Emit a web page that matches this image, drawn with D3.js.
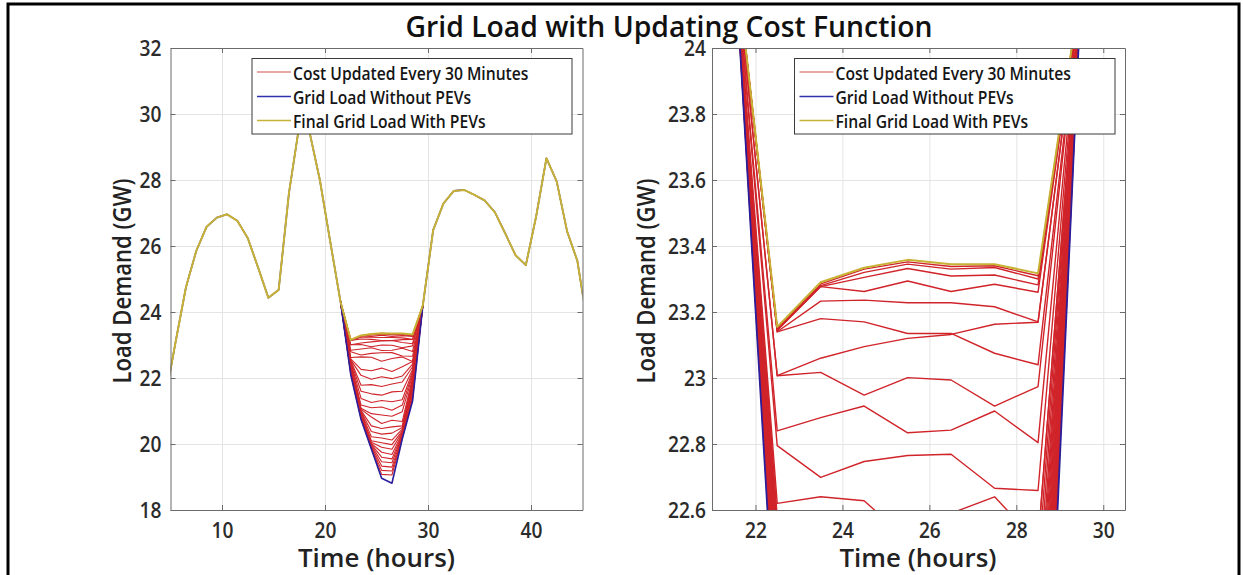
<!DOCTYPE html>
<html><head><meta charset="utf-8">
<script src="https://cdn.jsdelivr.net/npm/d3@7"></script>
<style>
html,body{margin:0;padding:0;background:#fff;}
svg text{font-family:"Open Sans","Noto Sans",sans-serif;font-weight:600;}
</style></head><body>
<svg id="chart" width="1243" height="575"></svg>
<script>
// ---------------- data ----------------
const titleText = "Grid Load with Updating Cost Function";
const xLabel = "Time (hours)";
const yLabel = "Load Demand (GW)";
const legendLabels = ["Cost Updated Every 30 Minutes", "Grid Load Without PEVs", "Final Grid Load With PEVs"];

const hours = [4.5,5.5,6.5,7.5,8.5,9.5,10.5,11.5,12.5,13.5,14.5,15.5,16.5,17.5,18.5,19.5,20.5,21.5,
  22.5,23.5,24.5,25.5,26.5,27.5,28.5,
  29.5,30.5,31.5,32.5,33.5,34.5,35.5,36.5,37.5,38.5,39.5,40.5,41.5,42.5,43.5,44.5,45.5];

const baseLoad = [21.4,23.1,24.75,25.85,26.58,26.86,26.96,26.76,26.24,25.35,24.43,24.67,27.6,29.65,29.45,28.0,26.15,24.32,
  22.10,20.74,19.85,18.96,18.81,20.15,21.30,
  24.2,26.48,27.29,27.67,27.7,27.55,27.38,27.02,26.38,25.72,25.42,26.9,28.66,27.95,26.45,25.55,23.6];

const finalLoad = [21.4,23.1,24.75,25.85,26.58,26.86,26.96,26.76,26.24,25.35,24.43,24.67,27.6,29.65,29.45,28.0,26.15,24.32,
  23.155,23.29,23.334,23.358,23.345,23.345,23.317,
  24.2,26.48,27.29,27.67,27.7,27.55,27.38,27.02,26.38,25.72,25.42,26.9,28.66,27.95,26.45,25.55,23.6];

const iterHours = [21.5,22.5,23.5,24.5,25.5,26.5,27.5,28.5,29.5];
const iterations = [
  [24.32,22.13,20.77,19.88,19.08,19.06,20.18,21.36,24.2],
  [24.32,22.15,20.79,19.90,19.20,19.18,20.20,21.42,24.2],
  [24.32,22.18,20.81,19.93,19.33,19.30,20.23,21.48,24.2],
  [24.32,22.20,20.83,19.96,19.46,19.43,20.26,21.54,24.2],
  [24.32,22.23,20.85,19.99,19.60,19.55,20.29,21.60,24.2],
  [24.32,22.25,20.88,20.02,19.75,19.68,20.32,21.66,24.2],
  [24.32,22.28,20.90,20.05,19.90,19.84,20.36,21.72,24.2],
  [24.32,22.30,20.93,20.10,20.04,19.98,20.40,21.78,24.2],
  [24.32,22.33,20.96,20.22,20.18,20.12,20.45,21.84,24.2],
  [24.32,22.35,20.99,20.38,20.30,20.33,20.50,21.90,24.2],
  [24.32,22.38,21.02,20.55,20.47,20.52,20.55,21.96,24.2],
  [24.32,22.40,21.05,20.82,20.62,20.72,20.68,22.02,24.2],
  [24.32,22.43,21.08,20.92,20.88,20.84,20.98,22.08,24.2],
  [24.32,22.45,21.18,21.10,21.12,21.02,21.18,22.14,24.2],
  [24.32,22.48,21.38,21.26,21.32,21.28,21.34,22.20,24.2],
  [24.32,22.50,21.60,21.52,21.48,21.58,21.60,22.26,24.2],
  [24.32,22.53,21.78,21.80,21.74,21.82,21.88,22.34,24.2],
  [24.32,22.55,22.08,21.96,22.04,21.98,22.06,22.42,24.2],
  [24.32,22.58,22.26,22.22,22.30,22.20,22.34,22.50,24.2],
  [24.32,22.62,22.64,22.628,22.51,22.59,22.64,22.50,24.2],
  [24.32,22.795,22.699,22.747,22.765,22.769,22.666,22.659,24.2],
  [24.32,22.84,22.88,22.915,22.834,22.842,22.90,22.804,24.2],
  [24.32,23.007,23.017,22.948,23.001,22.994,22.915,22.974,24.2],
  [24.32,23.007,23.06,23.095,23.12,23.132,23.163,23.169,24.2],
  [24.32,23.14,23.18,23.17,23.135,23.135,23.075,23.04,24.2],
  [24.32,23.14,23.233,23.236,23.228,23.228,23.216,23.17,24.2],
  [24.32,23.145,23.277,23.262,23.294,23.262,23.284,23.26,24.2],
  [24.32,23.145,23.277,23.305,23.332,23.309,23.312,23.282,24.2],
  [24.32,23.15,23.28,23.32,23.345,23.33,23.335,23.30,24.2],
  [24.32,23.152,23.285,23.33,23.352,23.338,23.34,23.31,24.2]
];

const leftXDomain = [5, 45];
const leftYDomain = [18, 32];
const leftXTicks = [10, 20, 30, 40];
const leftYTicks = [18, 20, 22, 24, 26, 28, 30, 32];
const rightXDomain = [21, 30.5];
const rightYDomain = [22.6, 24];
const rightXTicks = [22, 24, 26, 28, 30];
const rightYTicks = [22.6, 22.8, 23, 23.2, 23.4, 23.6, 23.8, 24];

// ---------------- styles ----------------
const RED = "#d0242a", BLUE = "#2a1e9c", YELLOW = "#c8b236";
const svg = d3.select("#chart");

function squeeze(sel, ratio) {
  sel.each(function () {
    const w = this.getComputedTextLength();
    d3.select(this).attr("textLength", w * ratio).attr("lengthAdjust", "spacingAndGlyphs");
  });
}
function fitTo(sel, target) {
  sel.attr("textLength", target).attr("lengthAdjust", "spacingAndGlyphs");
}

// outer frame
svg.append("rect").attr("x", 8).attr("y", 4).attr("width", 1231).attr("height", 620)
  .attr("fill", "none").attr("stroke", "#000").attr("stroke-width", 3);

// title
svg.append("text").attr("x", 669).attr("y", 37).attr("text-anchor", "middle")
  .attr("font-size", 29).attr("fill", "#111").text(titleText).call(fitTo, 527);

function panel(cfg) {
  const x = d3.scaleLinear().domain(cfg.xDomain).range([cfg.left, cfg.right]);
  const y = d3.scaleLinear().domain(cfg.yDomain).range([cfg.bottom, cfg.top]);
  const W = cfg.right - cfg.left, H = cfg.bottom - cfg.top;
  const g = svg.append("g");

  // grid
  g.append("g").attr("transform", `translate(0,${cfg.bottom})`)
    .call(d3.axisBottom(x).tickValues(cfg.xTicks).tickSize(-H).tickFormat(""))
    .call(a => { a.select(".domain").remove(); a.selectAll("line").attr("stroke", "#e4e4e4"); });
  g.append("g").attr("transform", `translate(${cfg.left},0)`)
    .call(d3.axisLeft(y).tickValues(cfg.yTicks).tickSize(-W).tickFormat(""))
    .call(a => { a.select(".domain").remove(); a.selectAll("line").attr("stroke", "#e4e4e4"); });

  // clip
  const cid = "clip" + cfg.id;
  svg.append("clipPath").attr("id", cid).append("rect")
    .attr("x", cfg.left).attr("y", cfg.top).attr("width", W).attr("height", H);
  const plot = g.append("g").attr("clip-path", `url(#${cid})`);

  const lineIter = d3.line().x((d, i) => x(iterHours[i])).y(d => y(d));
  const lineFull = d3.line().x((d, i) => x(hours[i])).y(d => y(d));

  plot.selectAll("path.iter").data(iterations).join("path").attr("class", "iter")
    .attr("d", lineIter).attr("fill", "none").attr("stroke", RED).attr("stroke-width", cfg.redW)
    .attr("stroke-linejoin", "round");
  plot.append("path").datum(baseLoad).attr("d", lineFull).attr("fill", "none")
    .attr("stroke", BLUE).attr("stroke-width", cfg.blueW).attr("stroke-linejoin", "round");
  plot.append("path").datum(finalLoad).attr("d", lineFull).attr("fill", "none")
    .attr("stroke", YELLOW).attr("stroke-width", cfg.yelW).attr("stroke-linejoin", "round");

  // axes (box with inward ticks)
  const fmt = cfg.fmt;
  const axB = g.append("g").attr("transform", `translate(0,${cfg.bottom})`)
    .call(d3.axisBottom(x).tickValues(cfg.xTicks).tickSizeInner(-5).tickSizeOuter(0).tickPadding(12).tickFormat(d3.format("d")));
  const axL = g.append("g").attr("transform", `translate(${cfg.left},0)`)
    .call(d3.axisLeft(y).tickValues(cfg.yTicks).tickSizeInner(-5).tickSizeOuter(0).tickPadding(cfg.yPad).tickFormat(fmt));
  const axT = g.append("g").attr("transform", `translate(0,${cfg.top})`)
    .call(d3.axisTop(x).tickValues(cfg.xTicks).tickSizeInner(-5).tickSizeOuter(0).tickFormat(""));
  const axR = g.append("g").attr("transform", `translate(${cfg.right},0)`)
    .call(d3.axisRight(y).tickValues(cfg.yTicks).tickSizeInner(-5).tickSizeOuter(0).tickFormat(""));
  [axB, axL, axT, axR].forEach(a => {
    a.select(".domain").attr("stroke", "#6b6b6b");
    a.selectAll("line").attr("stroke", "#6b6b6b");
    a.selectAll("text").attr("font-size", 22).attr("fill", "#2b2b2b")
      .attr("font-family", '"Open Sans","Noto Sans",sans-serif').attr("font-weight", 600);
  });
  axB.selectAll("text").call(squeeze, 0.87);
  axL.selectAll("text").call(squeeze, 0.87);

  // axis labels
  g.append("text").attr("transform", `translate(${cfg.ylabX},${(cfg.top + cfg.bottom) / 2 + 2}) rotate(-90)`)
    .attr("text-anchor", "middle").attr("font-size", 25).attr("fill", "#222").text(yLabel).call(fitTo, 205);
  g.append("text").attr("x", cfg.xlabX).attr("y", 567).attr("text-anchor", "middle")
    .attr("font-size", 25.5).attr("fill", "#222").text(xLabel).call(fitTo, 157);

  // legend
  const lg = g.append("g");
  lg.append("rect").attr("x", cfg.lgX).attr("y", 58.5).attr("width", cfg.lgW).attr("height", 75.5)
    .attr("fill", "#fff").attr("stroke", "#3a3a3a").attr("stroke-width", 1);
  const cols = ["#e28a8a", "#3030b0", YELLOW];
  const ys = [72, 96.5, 120.5];
  legendLabels.forEach((t, i) => {
    lg.append("line").attr("x1", cfg.lgX + 5).attr("x2", cfg.lgX + 39).attr("y1", ys[i]).attr("y2", ys[i])
      .attr("stroke", cols[i]).attr("stroke-width", 1.4);
    lg.append("text").attr("x", cfg.lgX + 41).attr("y", ys[i] + 7.5).attr("font-size", 18)
      .attr("fill", "#151515").text(t).call(squeeze, 0.87);
  });
}

panel({ id: "L", xDomain: leftXDomain, yDomain: leftYDomain, xTicks: leftXTicks, yTicks: leftYTicks,
  left: 170.5, right: 582.5, top: 48, bottom: 510, fmt: d3.format("d"), yPad: 9,
  redW: 1.1, blueW: 1.6, yelW: 2, ylabX: 131, xlabX: 376.5, lgX: 252, lgW: 320 });

panel({ id: "R", xDomain: rightXDomain, yDomain: rightYDomain, xTicks: rightXTicks, yTicks: rightYTicks,
  left: 712, right: 1125, top: 48, bottom: 510, fmt: d => (Math.round(d * 10) / 10).toString(), yPad: 6,
  redW: 1.4, blueW: 1.8, yelW: 2, ylabX: 655, xlabX: 918, lgX: 794.5, lgW: 320.5 });
</script>
</body></html>
